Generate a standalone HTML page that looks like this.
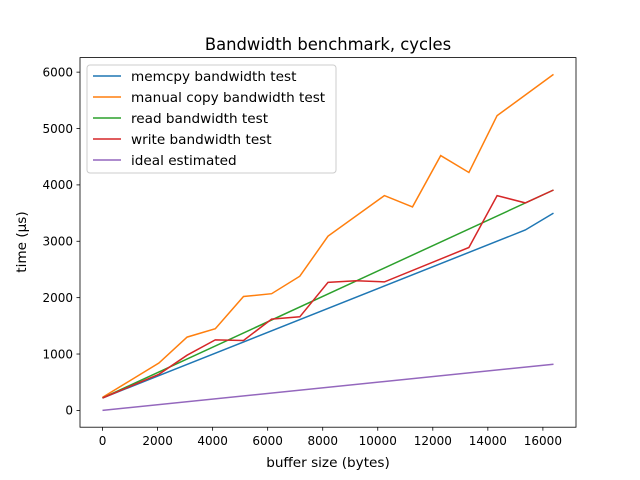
<!DOCTYPE html>
<html><head><meta charset="utf-8"><style>
body{margin:0;background:#fff}
svg{display:block;font-family:"DejaVu Sans","Liberation Sans",sans-serif}
</style></head><body>
<svg id="chart" width="640" height="480" xmlns="http://www.w3.org/2000/svg">
<rect width="640" height="480" fill="#fff"/>
<text x="328" y="50" font-size="16.4" text-anchor="middle">Bandwidth benchmark, cycles</text>
<g id="plot"></g>
<rect x="80" y="57.6" width="496" height="369.6" fill="none" stroke="#000" stroke-width="0.8"/>
<text x="328" y="467" font-size="13.6" text-anchor="middle">buffer size (bytes)</text>
<text transform="translate(26,242) rotate(-90)" font-size="13.6" text-anchor="middle">time (µs)</text>
<g id="legend"></g>
</svg>
<script>
const xTicks=[0,2000,4000,6000,8000,10000,12000,14000,16000];
const yTicks=[0,1000,2000,3000,4000,5000,6000];
const seriesNames=["memcpy bandwidth test","manual copy bandwidth test","read bandwidth test","write bandwidth test","ideal estimated"];
const seriesColors=["#1f77b4","#ff7f0e","#2ca02c","#d62728","#9467bd"];
const memcpyX=[0,15360,16384];
const memcpyY=[220,3200,3500];
const manualX=[0,2048,3072,4096,5120,6144,7168,8192,10240,11264,12288,13312,14336,16384];
const manualY=[230,840,1300,1450,2020,2070,2380,3090,3810,3610,4520,4220,5230,5960];
const readX=[0,16384];
const readY=[220,3910];
const writeX=[0,2048,3072,4096,5120,6144,7168,8192,9216,10240,13312,14336,15360,16384];
const writeY=[220,640,980,1250,1240,1620,1660,2270,2300,2280,2890,3810,3680,3910];
const idealX=[0,16384];
const idealY=[0,820];
const allX=[memcpyX,manualX,readX,writeX,idealX];
const allY=[memcpyY,manualY,readY,writeY,idealY];
const NS="http://www.w3.org/2000/svg";
const L=80,R=576,T=57.6,B=427.2;
const flat=a=>[].concat(...a);
const xmin0=Math.min(...flat(allX)),xmax0=Math.max(...flat(allX));
const ymin0=Math.min(...flat(allY)),ymax0=Math.max(...flat(allY));
const xm=(xmax0-xmin0)*0.05,ym=(ymax0-ymin0)*0.05;
const xs=v=>L+(v-(xmin0-xm))/((xmax0+xm)-(xmin0-xm))*(R-L);
const ys=v=>B-(v-(ymin0-ym))/((ymax0+ym)-(ymin0-ym))*(B-T);
const plot=document.getElementById('plot');
function mk(tag,attrs,parent){const e=document.createElementNS(NS,tag);for(const k in attrs)e.setAttribute(k,attrs[k]);parent.appendChild(e);return e;}
xTicks.forEach(t=>{const x=xs(t);
 const l=mk('line',{x1:x,x2:x,y1:B,y2:B+3.5,stroke:'#000','stroke-width':0.8},plot);
 
 
 const tx=mk('text',{x:x,y:B+18,'font-size':12,'text-anchor':'middle'},plot);tx.textContent=t;
 
 
});
yTicks.forEach(t=>{const y=ys(t);
 const l=mk('line',{x1:L-3.5,x2:L,y1:y,y2:y,stroke:'#000','stroke-width':0.8},plot);
 
 
 const tx=mk('text',{x:L-7,y:y+4.3,'font-size':12,'text-anchor':'end'},plot);tx.textContent=t;
 
 
});
allX.forEach((xa,i)=>{
 const pts=xa.map((x,j)=>xs(x).toFixed(1)+','+ys(allY[i][j]).toFixed(1)).join(' ');
 const p=mk('polyline',{points:pts,fill:'none',stroke:seriesColors[i],'stroke-width':1.5},plot);
 
 
});
const lg=document.getElementById('legend');
const box=mk('rect',{x:87,y:65,width:249,height:108,rx:3,fill:'#fff','fill-opacity':0.8,stroke:'#ccc'},lg);


seriesNames.forEach((n,i)=>{const y=76+i*21;
 const l=mk('line',{x1:93,x2:121,y1:y,y2:y,stroke:seriesColors[i],'stroke-width':1.5},lg);
 
 
 const t=mk('text',{x:131,y:y+4.8,'font-size':13.6},lg);t.textContent=n;
 
 
});
</script>
</body></html>
